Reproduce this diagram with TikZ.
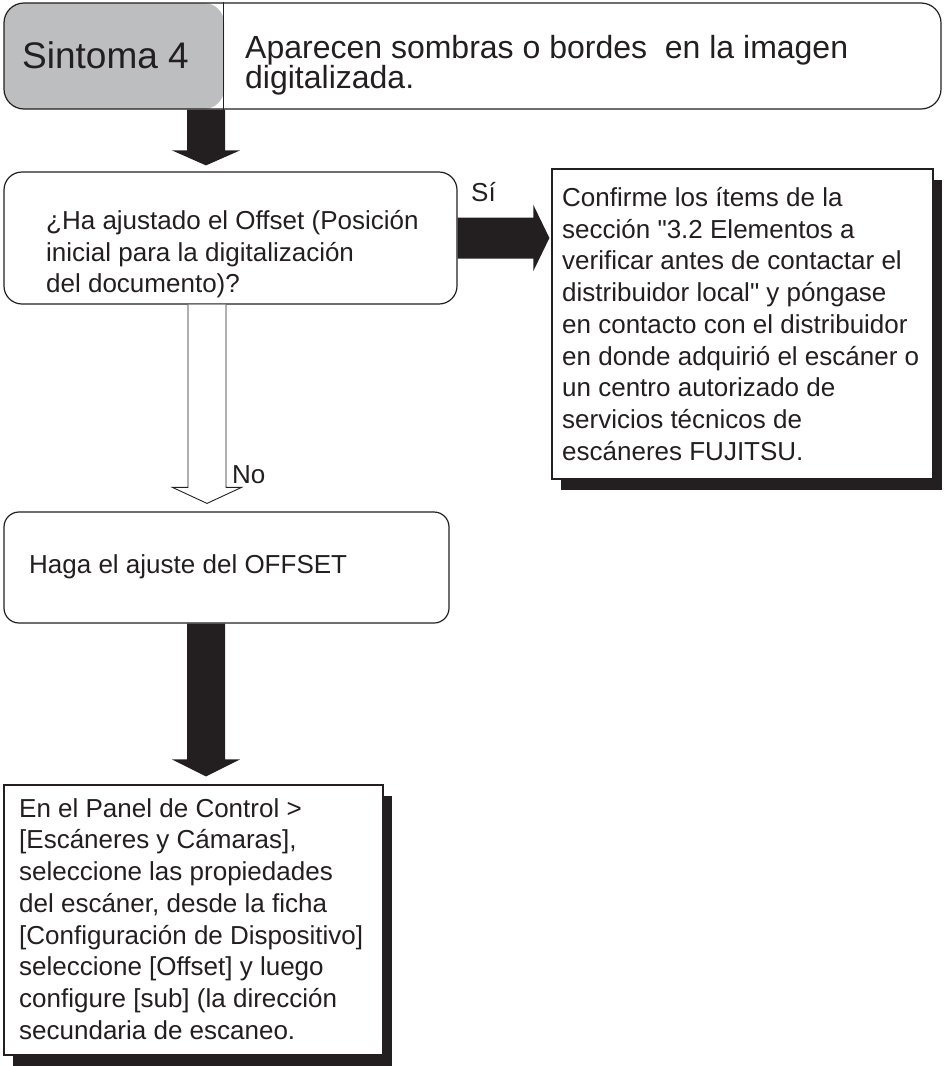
\documentclass[tikz,border=0pt]{standalone}
\usepackage{fontspec}
\setmainfont{Liberation Sans}[Ligatures=TeXOff]
\usepackage{xcolor}
\definecolor{ink}{RGB}{35, 31, 32}
\definecolor{symgray}{RGB}{189, 190, 192}
\usepackage{tikz}
\usetikzlibrary{
  arrows.meta,
  positioning,
  calc,
  shadows
}

\begin{document}
\begin{tikzpicture}[x=1pt, y=-1pt,
  every node/.style={text=ink, inner sep=0pt},
  bodytxt/.style={font=\fontsize{26}{31.75}\selectfont, align=left},
  flowbox/.style={draw=ink, line width=1.2pt, fill=white},
  shadowbox/.style={flowbox, drop shadow={shadow xshift=9pt, shadow yshift=-11pt,
      fill=ink, opacity=1}},
  solidarrow/.style={fill=ink},
  openarrow/.style={draw=ink, line width=0.9pt, fill=white}]
\useasboundingbox (0,0) rectangle (943,1066);

% symptom header
\node[flowbox, rounded corners=20pt, minimum width=937pt, minimum height=106pt,
      path picture={\fill[symgray] (path picture bounding box.north west)
        rectangle ([xshift=220pt]path picture bounding box.south west);}]
  (hdr) at (472.5,56) {};
\draw[ink, line width=1.2pt] ($(hdr.north west)+(220,0)$) -- ($(hdr.south west)+(220,0)$);
\node[font=\fontsize{37}{44}\selectfont, anchor=base west] (sym) at (22,68) {Sintoma 4};
\node[font=\fontsize{32}{30}\selectfont, align=left, anchor=north west] (symtxt) at (245,35)
  {Aparecen sombras o bordes\ \ en la imagen\\digitalizada.};

% boxes
\node[flowbox, rounded corners=18pt, minimum width=453pt, minimum height=132pt] (q) at (230.5,238) {};
\node[bodytxt, anchor=north west] (qtxt) at (46,210)
  {¿Ha ajustado el Offset (Posición\\inicial para la digitalización\\del documento)?};

\node[shadowbox, minimum width=381pt, minimum height=310pt] (ans) at (742.5,324) {};
\node[bodytxt, anchor=north west] (anstxt) at (562,187)
  {Confirme los ítems de la\\sección "3.2 Elementos a\\verificar antes de contactar el\\
   distribuidor local" y póngase\\en contacto con el distribuidor\\en donde adquirió el escáner o\\
   un centro autorizado de\\servicios técnicos de\\escáneres FUJITSU.};

\node[flowbox, rounded corners=15pt, minimum width=445pt, minimum height=111pt] (haga) at (226.5,567.5) {};
\node[bodytxt, anchor=base west] (hagatxt) at (29,573) {Haga el ajuste del OFFSET};

\node[shadowbox, minimum width=379pt, minimum height=270pt] (fin) at (193.5,920) {};
\node[bodytxt, anchor=north west] (fintxt) at (19,798)
  {En el Panel de Control >\\{[}Escáneres y Cámaras],\\seleccione las propiedades\\
   del escáner, desde la ficha\\{[}Configuración de Dispositivo]\\seleccione [Offset] y luego\\
   configure [sub] (la dirección\\secundaria de escaneo.};

% block arrows
\coordinate (axis) at (206,0);

\coordinate (a1) at (axis |- hdr.south);
\coordinate (a1tip) at ($(axis |- q.north)+(0,-6)$);
\fill[solidarrow] ($(a1)+(-19,0)$) -- ($(a1tip)+(-19,-15)$) -- ($(a1tip)+(-34,-15)$) -- (a1tip)
  -- ($(a1tip)+(34,-15)$) -- ($(a1tip)+(19,-15)$) -- ($(a1)+(19,0)$) -- cycle;

\coordinate (r0) at (q.east);
\coordinate (rtip) at ($(q.east -| ans.west)+(-2,0)$);
\fill[solidarrow] ($(r0)+(0,-20.5)$) -- ($(rtip)+(-16,-20.5)$) -- ($(rtip)+(-16,-33)$) -- (rtip)
  -- ($(rtip)+(-16,33)$) -- ($(rtip)+(-16,20.5)$) -- ($(r0)+(0,20.5)$) -- cycle;
\node[bodytxt, anchor=base west] (si) at (471,201) {Sí};

\coordinate (a2) at ($(axis |- q.south)+(1,0)$);
\coordinate (a2tip) at ($(axis |- haga.north)+(1,-8)$);
\draw[openarrow] ($(a2)+(-19,0)$) -- ($(a2tip)+(-19,-16)$) -- ($(a2tip)+(-34.5,-16)$) -- (a2tip)
  -- ($(a2tip)+(34.5,-16)$) -- ($(a2tip)+(19,-16)$) -- ($(a2)+(19,0)$);
\node[bodytxt, anchor=base west] (no) at (232,483) {No};

\coordinate (a3) at (axis |- haga.south);
\coordinate (a3tip) at ($(axis |- fin.north)+(0,-8)$);
\fill[solidarrow] ($(a3)+(-19,0)$) -- ($(a3tip)+(-19,-17)$) -- ($(a3tip)+(-34,-17)$) -- (a3tip)
  -- ($(a3tip)+(34,-17)$) -- ($(a3tip)+(19,-17)$) -- ($(a3)+(19,0)$) -- cycle;
\end{tikzpicture}
\end{document}
